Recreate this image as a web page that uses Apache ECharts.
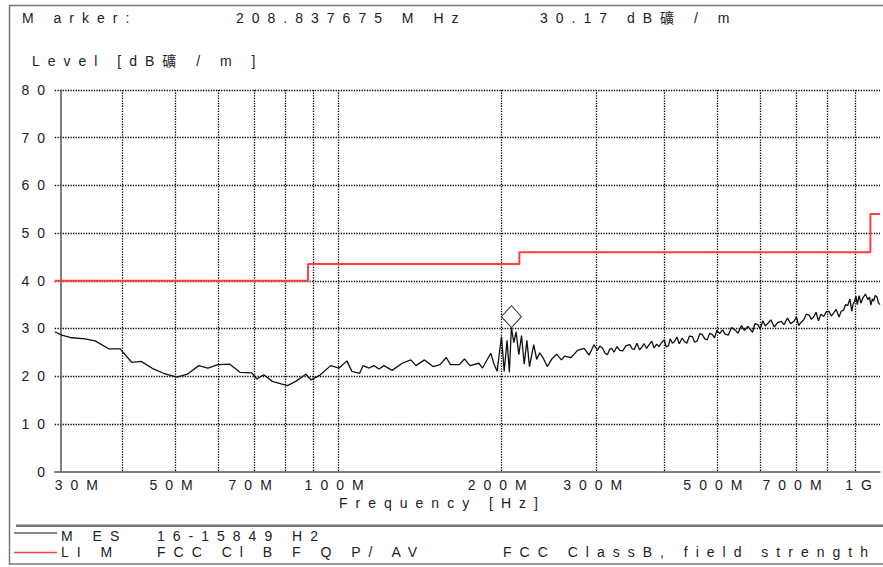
<!DOCTYPE html>
<html><head><meta charset="utf-8">
<script src="https://cdn.jsdelivr.net/npm/echarts@6/dist/echarts.min.js"></script>
<style>
html,body{margin:0;padding:0;background:#fff;}
#chart{width:883px;height:567px;}
#chart text{letter-spacing:8px;}
</style></head><body><div id="chart"></div>
<script>
// Measured trace (MHz, dB)
const mesFreq = [30.0,30.9,32.0,34.1,35.6,37.8,39.6,41.6,43.3,45.6,47.6,50.4,52.7,55.3,57.5,60.0,63.1,65.9,69.3,70.8,72.9,75.6,80.6,83.5,87.2,89.1,92.3,96.9,100.4,103.8,106.0,109.6,111.1,114.1,116.5,119.0,121.5,125.8,131.3,136.2,139.2,144.3,149.7,154.2,158.3,161.2,167.3,171.1,175.1,181.9,184.7,191.3,194.0,196.5,200.2,202.5,205.0,207.0,208.837675,211.0,213.0,215.5,218.0,220.5,223.0,225.5,229.6,232.5,235.5,238.5,243.2,248.0,253.0,258.3,261.8,269.1,276.6,284.4,290.5,296.6,300.9,304,307.4,311,314,317,320,323,327,331,335,340,345.4,349,352,356,360,364,367,371,375,379,383,387,391,395,400,403,407,410,414,418,422,426,431.6,436,440,445,450.5,455,460,465,470,475,480,485,490.5,495,500,506,512,518,525,532,540,547,555,562,570,576,582,588,595,601,608,614,621,629,638,647,657,665,675,684,694,701,708,715,723.5,731,740,747,755,762,770,778,787,796,805,813,821,830,840,848,857,864,872,880,887,892,897,903,908,915,922,930,940,950,956,962,968,973,980,987,993,1000];
const mesLevel = [29.3,28.6,28.1,27.8,27.4,25.7,25.7,22.9,23.1,21.5,20.6,19.8,20.4,22.2,21.7,22.4,22.5,20.8,20.7,19.4,20.3,18.9,18.0,18.9,20.4,19.2,20.1,22.2,21.7,23.2,21.0,20.6,22.2,21.7,22.2,21.5,22.2,21.2,22.7,23.4,22.2,23.4,22.0,22.4,23.9,22.4,22.4,23.6,22.2,22.7,21.7,24.8,22.5,21.0,28.3,21.0,27.5,20.8,30.17,27.0,29.3,24.5,28.5,22.5,27.5,22.0,26.6,23.5,24.9,24.0,22.0,23.6,24.6,23.4,24.2,23.9,25.4,25.8,24.4,26.6,25.4,26.3,25.9,24.8,24.5,25.6,25.8,25.0,26.2,25.4,25.3,26.4,26.6,25.7,25.6,26.9,25.5,26.2,26.8,25.8,26.6,27.3,25.9,26.7,26.2,27.0,27.6,26.1,26.4,27.8,26.9,27.3,28.2,26.8,28.0,27.2,26.9,28.4,28.3,27.1,27.4,28.9,28.7,27.8,27.6,29.0,28.7,28.0,29.6,28.9,29.7,28.8,28.6,30.2,29.7,29.0,30.6,29.6,30.4,29.8,29.2,31.0,30.8,29.9,31.6,30.5,31.1,31.8,30.3,31.2,31.5,30.8,32.2,31.0,31.5,32.4,30.6,31.3,31.8,33.0,32.8,31.9,32.5,33.4,31.6,33.0,32.5,33.5,33.6,32.6,33.2,34.0,32.4,33.6,33.9,35.0,34.8,36.2,33.6,35.1,35.6,36.8,35.0,36.9,35.3,36.4,37.2,36.0,36.6,34.9,36.2,35.7,36.9,36.6,35.4,35.0];
// Limit line (MHz, dB)
const limFreq = [30, 88, 88, 216, 216, 960, 960, 1000];
const limLevel = [40, 40, 43.5, 43.5, 46, 46, 54, 54];
// Axis ticks
const gridFreqs = [30,40,50,60,70,80,90,100,200,300,400,500,600,700,800,900,1000];
const labelFreqs = [30,50,70,100,200,300,500,700,1000];
const yMin = 0, yMax = 80, yStep = 10;
// Marker
const markerFreq = 208.837675;
const markerLevel = 30.17;
const unit = 'dB礦 / m';

const FONT = "'Liberation Sans', Arial, 'Noto Sans CJK SC', sans-serif";
const lg = v => Math.log10(v);
const chart = echarts.init(document.getElementById('chart'), null, {renderer: 'svg'});
const gridLine = {color: '#000', type: [1.3, 1.3], width: 1.3};
const txt = (text, x, y, extra) => ({type: 'text', silent: true, style: Object.assign({text, x, y, fill: '#222', font: '14px ' + FONT, align: 'left', verticalAlign: 'middle'}, extra || {})});

chart.setOption({
  animation: false,
  backgroundColor: '#fff',
  grid: {left: 54.8, right: 0.5, top: 90, bottom: 95.5, containLabel: false},
  xAxis: {
    type: 'value', min: lg(30), max: lg(1000), offset: 4,
    axisLine: {show: true, lineStyle: {color: '#555', width: 1.5}},
    axisTick: {show: false, customValues: gridFreqs.map(lg)},
    axisLabel: {
      customValues: labelFreqs.map(lg), margin: 2, fontSize: 14, fontFamily: FONT, color: '#222',
      alignMinLabel: 'left', alignMaxLabel: 'right',
      formatter: v => { const f = Math.round(Math.pow(10, v)); return f >= 1000 ? (f / 1000) + 'G' : f + 'M'; }
    },
    splitLine: {show: true, showMinLine: false, showMaxLine: false, lineStyle: gridLine}
  },
  yAxis: {
    type: 'value', min: yMin, max: yMax, interval: yStep, offset: -6.3,
    axisLine: {show: true, lineStyle: {color: '#555', width: 1.5}},
    axisTick: {show: false},
    axisLabel: {margin: 8, fontSize: 14, fontFamily: FONT, color: '#222'},
    splitLine: {show: true, showMinLine: false, lineStyle: gridLine}
  },
  series: [
    {
      name: 'LIM', type: 'line', showSymbol: false, z: 2,
      lineStyle: {color: '#ff4040', width: 2},
      data: limFreq.map((f, i) => [lg(f), limLevel[i]])
    },
    {
      name: 'MES', type: 'line', showSymbol: false, z: 3,
      lineStyle: {color: '#111', width: 1.3},
      data: mesFreq.map((f, i) => [lg(f), mesLevel[i]]),
      markPoint: {
        symbol: 'diamond', symbolSize: [20, 22], symbolOffset: [0, -11],
        itemStyle: {color: 'rgba(0,0,0,0)', borderColor: '#333', borderWidth: 1},
        label: {show: false},
        data: [{coord: [lg(markerFreq), markerLevel]}]
      }
    }
  ],
  graphic: [
    {type: 'rect', silent: true, shape: {x: 9.5, y: 5.5, width: 900, height: 558.5}, style: {fill: 'none', stroke: '#777', lineWidth: 1.5}},
    {type: 'rect', silent: true, shape: {x: 16, y: 524.5, width: 870, height: 2.5}, style: {fill: '#777'}},
    txt('M arker:', 22, 18),
    txt(markerFreq.toFixed(6) + ' M Hz', 236, 18),
    txt(markerLevel.toFixed(2) + ' ' + unit, 540, 18),
    txt('Level [' + unit + ' ]', 32, 61),
    txt('Frequency [Hz]', 339, 503),
    {type: 'line', silent: true, shape: {x1: 14, y1: 533, x2: 57, y2: 533}, style: {stroke: '#111', lineWidth: 1.2}},
    {type: 'line', silent: true, shape: {x1: 14, y1: 552.5, x2: 57, y2: 552.5}, style: {stroke: '#ff4040', lineWidth: 1.5}},
    txt('M ES', 61, 536),
    txt('16-15849 H2', 157, 536),
    txt('LI M', 61, 552),
    txt('FCC Cl B F Q P/ AV', 157, 552),
    txt('FCC ClassB, field strength', 503, 552)
  ]
});
</script></body></html>
